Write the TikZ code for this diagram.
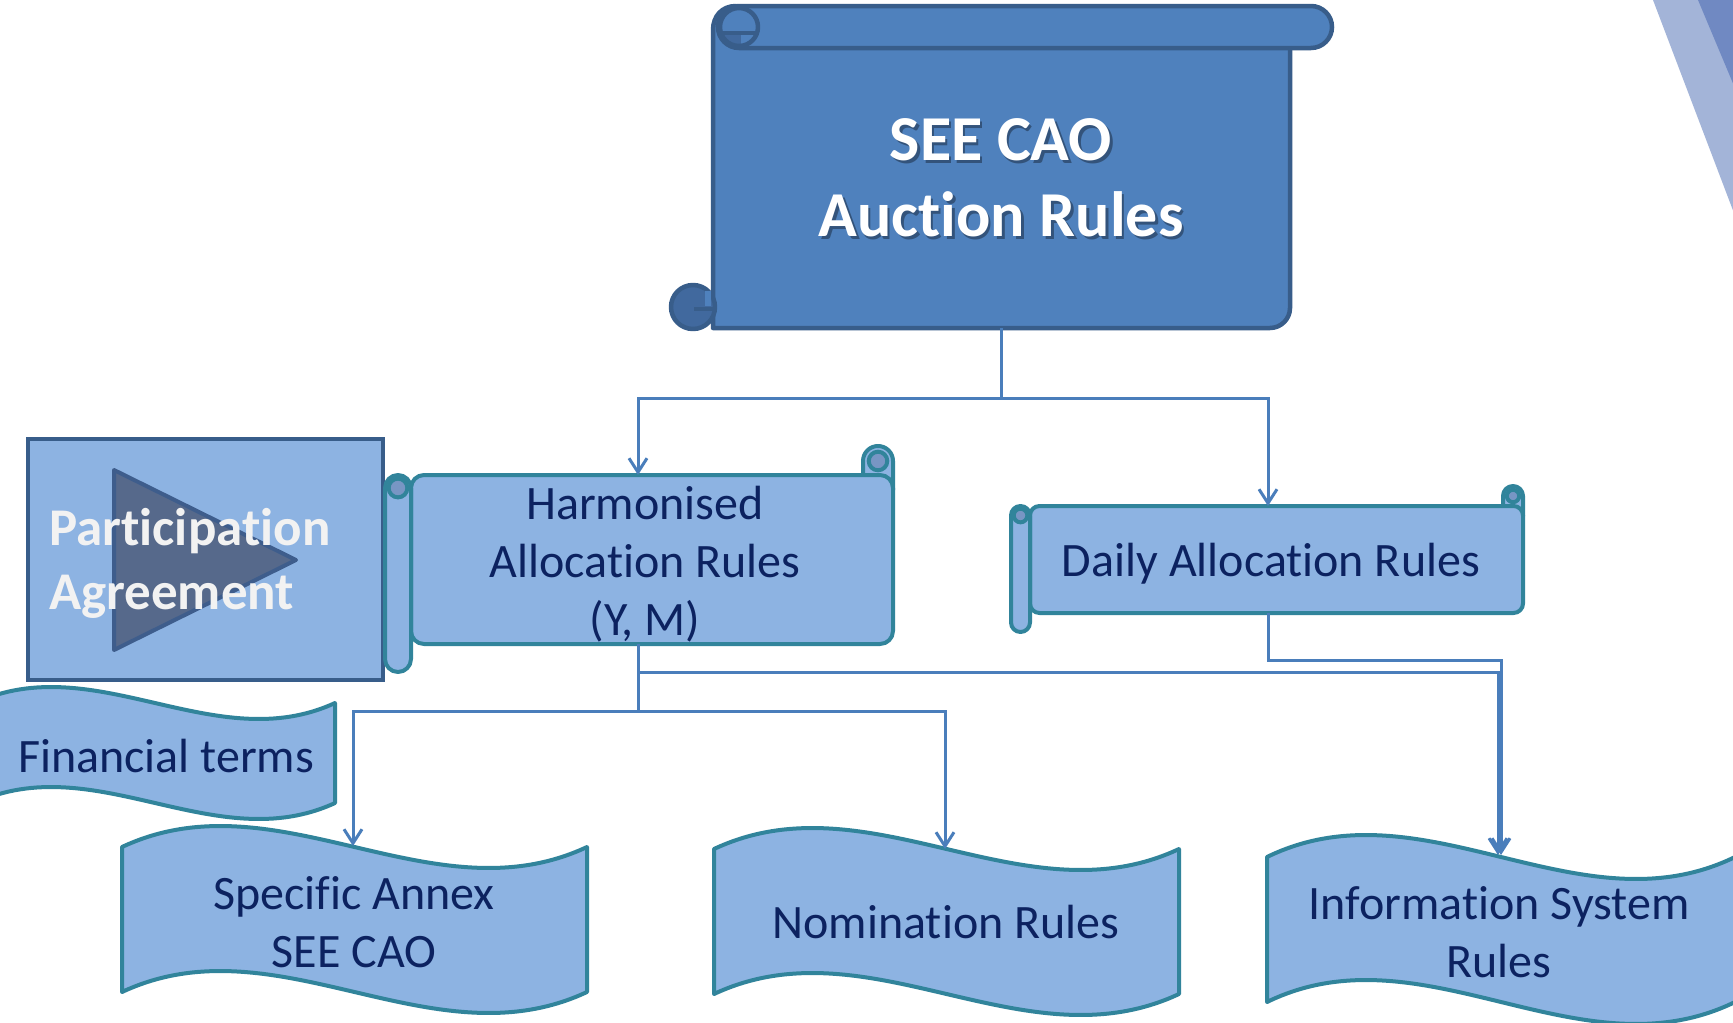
\documentclass[tikz,border=0pt]{standalone}
\usepackage{fontspec}
\setmainfont{Carlito}[Ligatures={NoCommon,NoContextual}]
\usetikzlibrary{arrows.meta,calc}
\newcommand{\nlg}{\kern0pt }
\definecolor{topfill}{HTML}{4F81BD}
\definecolor{topline}{HTML}{385D8A}
\definecolor{topdark}{HTML}{41699E}
\definecolor{lightfill}{HTML}{8DB3E2}
\definecolor{tealline}{HTML}{31849B}
\definecolor{curlfill}{HTML}{7896C4}
\definecolor{conncol}{HTML}{4A7EBB}
\definecolor{navy}{HTML}{0C2260}
\definecolor{tricol}{HTML}{56698B}
\definecolor{triline}{HTML}{3E5D8C}
\definecolor{ptext}{HTML}{F2F2F2}
\definecolor{bandlight}{HTML}{A3B4D8}
\definecolor{banddark}{HTML}{7089C2}

\newcommand{\tapeshape}[5]{%
  \pgfmathsetmacro{\tpw}{(#2)-(#1)}%
  \pgfmathsetmacro{\tph}{(#5)/0.289}%
  \filldraw[tapest] (#1,#3) .. controls ({#1+\tpw/3},{#3-\tph}) and ({#1+2*\tpw/3},{#3+\tph}) .. (#2,#3)
     -- (#2,#4) .. controls ({#1+2*\tpw/3},{#4+\tph}) and ({#1+\tpw/3},{#4-\tph}) .. (#1,#4) -- cycle;}

\newcommand{\hscrollshape}[8]{%
  \pgfmathsetmacro{\srw}{(#2)-(#1)}%
  \pgfmathsetmacro{\srr}{\srw/2}%
  \pgfmathsetmacro{\trr}{(#8)/2}%
  \filldraw[scr, rounded corners=\trr pt] ({#3-#8},#6) rectangle (#3,{#4+#8});
  \filldraw[scr, rounded corners=\srr pt] (#2,#4) rectangle (#3,#5);
  \filldraw[scr, rounded corners=\srr pt] (#1,#4) rectangle (#2,#7);
  \filldraw[scr, fill=curlfill] ({#1+\srr},{#4+\srr}) circle[radius={\srr*0.72}];
  \filldraw[scr, fill=curlfill] ({#3-\trr},{#6+\trr}) circle[radius={\trr*0.62}];
}

\begin{document}
\begin{tikzpicture}[x=1pt,y=-1pt,
  conn/.style={draw=conncol, line width=3pt},
  arr/.style={conn, -{Straight Barb[length=14pt,width=18pt]}},
  topsc/.style={fill=topfill, draw=topline, line width=4.5pt, line join=round},
  scr/.style={fill=lightfill, draw=tealline, line width=4pt, line join=round},
  tapest/.style={fill=lightfill, draw=tealline, line width=4pt, line join=round},
  bodytext/.style={font=\fontsize{48}{58}\selectfont, text=navy, align=center, inner sep=0pt},
  toptext/.style={font=\fontsize{64}{76}\selectfont\bfseries, align=center, inner sep=0pt}]

\useasboundingbox (0,0) rectangle (1733,1023);
\fill[white] (0,0) rectangle (1733,1023);
\clip (0,0) rectangle (1733,1023);

% decorative bands
\fill[bandlight] (1653,0) -- (1745,242) -- (1745,0) -- cycle;
\fill[banddark] (1698,0) -- (1745,112) -- (1745,0) -- cycle;

% ---- top vertical scroll ----
\filldraw[topsc] (736,6) .. controls (722,6) and (713,16) .. (713,30) -- (713,328) -- (1270,328)
   .. controls (1281,328) and (1290,319) .. (1290,308) -- (1290,45);
\filldraw[topsc, rounded corners=21pt] (718,6) rectangle (1332,48);
\begin{scope}
  \clip (739,27) circle[radius=19];
  \fill[topdark] (715,33) rectangle (741,50);
  \draw[topsc, fill=none, line width=4pt] (715,33) -- (760,33);
\end{scope}
\draw[topsc, fill=none] (739,27) circle[radius=19];
\filldraw[topsc, fill=topdark] (693,307) circle[radius=22];
\fill[topfill] (705,291) rectangle (711,306);
\draw[topline, line width=4pt] (694,308.5) -- (713,308.5);
\node[minimum width=577pt, minimum height=320pt, inner sep=0pt] (top) at (1001.5,168) {};
\node[toptext, text=black, opacity=0.35] (topshadow) at (1003.5,180.5) {SEE CAO\\Auct\nlg ion Rules};
\node[toptext, text=white] (toplabel) at (1001,178) {SEE CAO\\Auct\nlg ion Rules};

% ---- participation agreement ----
\filldraw[fill=lightfill, draw=topline, line width=4pt] (28,439) rectangle (383,680);
\filldraw[fill=tricol, draw=triline, line width=4pt, line join=round] (114,470) -- (296,560) -- (114,650) -- cycle;
\node[anchor=west, align=left, inner sep=0pt, font=\fontsize{53}{64}\selectfont\bfseries, text=ptext] (part) at (49,563) {Part\nlg icipat\nlg ion\\Agreement};

% ---- horizontal scrolls ----
\hscrollshape{385}{411}{893}{475}{644}{446}{672}{30}
\node[bodytext] (harm) at (645,564) {Harmonised\\Allocat\nlg ion Rules\\(Y, M)};

\hscrollshape{1011}{1030}{1523}{506}{613}{486}{632}{20}
\node[bodytext] (daily) at (1271,564) {Daily Allocat\nlg ion Rules};

% ---- punched tapes ----
\tapeshape{-25}{335}{703}{803}{16}
\node[bodytext] (fin) at (166,756) {Financial terms};

\tapeshape{122}{587}{847}{992}{21}
\node[bodytext] (spec) at (354,922) {Specif\nlg ic Annex\\SEE CAO};

\tapeshape{714}{1179}{849}{994}{21}
\node[bodytext] (nom) at (946,922) {Nominat\nlg ion Rules};

\tapeshape{1267}{1735}{857}{1002}{22}
\node[bodytext] (info) at (1499,932) {Informat\nlg ion System\\Rules};

% ---- connectors ----
\coordinate (tj) at (1001.5,398);
\coordinate (harmin) at (638,475);
\coordinate (dailyin) at (1268,506);
\draw[conn] (top.south) -- (tj);
\draw[arr] (tj) -| (harmin);
\draw[arr] (tj) -| (dailyin);

\coordinate (harmout) at (638,644);
\coordinate (hj) at (638,711);
\coordinate (hj2) at (638,672);
\coordinate (specin) at (353,846);
\coordinate (nomin) at (945,849);
\coordinate (infoin) at (1498,855);
\coordinate (infoin2) at (1501,855);
\coordinate (dailyout) at (1268,613);
\coordinate (dj) at (1268,660);
\draw[conn] (harmout) -- (hj);
\draw[arr] (hj) -| (specin);
\draw[arr] (hj) -| (nomin);
\draw[arr] (hj2) -| (infoin);
\draw[arr] (dailyout) -- (dj) -| (infoin2);
\end{tikzpicture}
\end{document}
